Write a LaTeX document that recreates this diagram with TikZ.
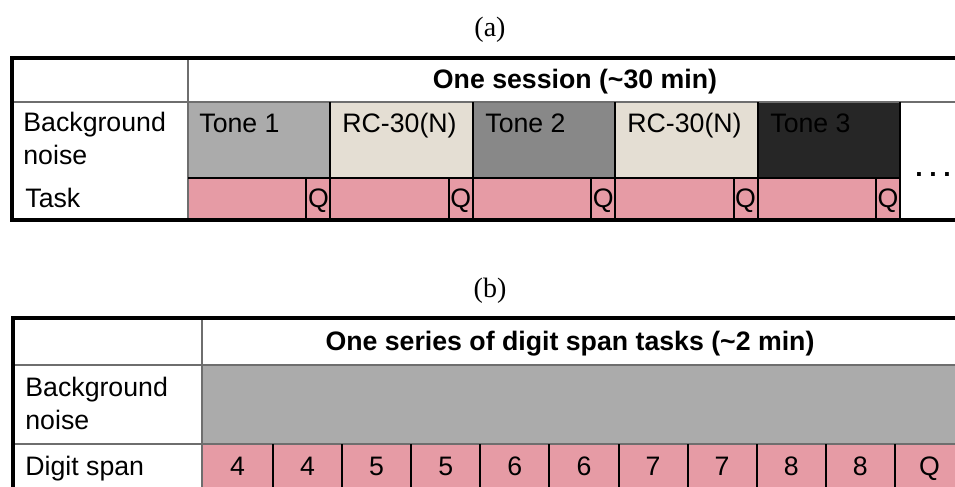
\documentclass[tikz,border=0pt]{standalone}
\usepackage{fontspec}
\setmainfont{Liberation Sans}
\newfontfamily\capfont{Liberation Serif}

\definecolor{tonelight}{HTML}{ABABAB}
\definecolor{tonemid}{HTML}{888888}
\definecolor{tonedark}{HTML}{262626}
\definecolor{rcbeige}{HTML}{E4DED3}
\definecolor{taskpink}{HTML}{E69BA5}
\definecolor{gridgray}{HTML}{6E6E6E}

\tikzset{
  txt/.style={inner sep=0pt,font=\fontsize{13.35}{16.5}\selectfont},
  lbl/.style={txt,anchor=base west},
  cnt/.style={txt,anchor=base},
  captext/.style={inner sep=0pt,anchor=base,font=\capfont\fontsize{14}{16}\selectfont},
  outline/.style={line width=2pt},
  gridline/.style={gridgray,line width=0.8pt},
  sepline/.style={black,line width=1pt}
}

\begin{document}
\begin{tikzpicture}[x=0.5pt,y=-0.5pt]

\begin{scope}

\clip (0,0) rectangle (955,487);
\fill [white] (0,0) rectangle (955,487);

% (a) one session
\node [captext] (capa) at (490,37) {(a)};

\fill [tonelight] (188,102) rectangle (330.4,178);
\fill [rcbeige] (330.4,102) rectangle (472.8,178);
\fill [tonemid] (472.8,102) rectangle (615.2,178);
\fill [rcbeige] (615.2,102) rectangle (757.6,178);
\fill [tonedark] (757.6,102) rectangle (900,178);
\fill [taskpink] (188,178) rectangle (900,220);

\draw [gridline] (12,102) -- (960,102);
\draw [gridline] (188,58) -- (188,220);
\draw [sepline] (188,178) -- (900,178);

\draw [sepline] (330.4,102) -- (330.4,220);
\draw [sepline] (472.8,102) -- (472.8,220);
\draw [sepline] (615.2,102) -- (615.2,220);
\draw [sepline] (757.6,102) -- (757.6,220);
\draw [sepline] (900,102) -- (900,220);

\draw [sepline] (306.4,178) -- (306.4,220);
\draw [sepline] (448.8,178) -- (448.8,220);
\draw [sepline] (591.2,178) -- (591.2,220);
\draw [sepline] (733.6,178) -- (733.6,220);
\draw [sepline] (876,178) -- (876,220);

\draw [outline] (960,58) -- (12,58) -- (12,220) -- (960,220);

\node [cnt] (sessiontitle) at (575,88) {\textbf{One session (\textasciitilde30 min)}};
\node [lbl,align=left,anchor=north west] (noisea) at (23,112) {Background\\noise};
\node [lbl] (taska) at (25,207) {Task};

\node [lbl] (tone1) at (199,132) {Tone 1};
\node [lbl] (rc1) at (342,132) {RC-30(N)};
\node [lbl] (tone2) at (485,132) {Tone 2};
\node [lbl] (rc2) at (627,132) {RC-30(N)};
\node [lbl] (tone3) at (770,132) {Tone 3};

\node [cnt] (q1) at (318.4,207) {Q};
\node [cnt] (q2) at (460.8,207) {Q};
\node [cnt] (q3) at (603.2,207) {Q};
\node [cnt] (q4) at (745.6,207) {Q};
\node [cnt] (q5) at (888,207) {Q};

\node [lbl] (more) at (915,176) {\textbf{.\kern3.3pt.\kern3.3pt.}};

% (b) one series of digit span tasks
\node [captext] (capb) at (490,297) {(b)};

\fill [tonelight] (202,365) rectangle (960,444);
\fill [taskpink] (202,444) rectangle (960,490);

\draw [gridline] (13,365) -- (960,365);
\draw [gridline] (13,444) -- (960,444);
\draw [gridline] (202,318) -- (202,490);

\foreach \i in {0,...,9}
  \draw [sepline] ({273+69.1*\i},444) -- ({273+69.1*\i},490);

\draw [outline] (960,318) -- (13,318) -- (13,490);

\node [cnt] (seriestitle) at (570,350) {\textbf{One series of digit span tasks (\textasciitilde2 min)}};
\node [lbl,align=left,anchor=north west] (noiseb) at (25,377) {Background\\noise};
\node [lbl] (digitspan) at (25,475) {Digit span};

\node [cnt] (d1) at (237.5,475) {4};
\foreach \d [count=\i from 2] in {4,5,5,6,6,7,7,8,8,Q}
  \node [cnt] (d\i) at ({273+69.1*(\i-2)+34.55},475) {\d};

\end{scope}

\end{tikzpicture}
\end{document}
